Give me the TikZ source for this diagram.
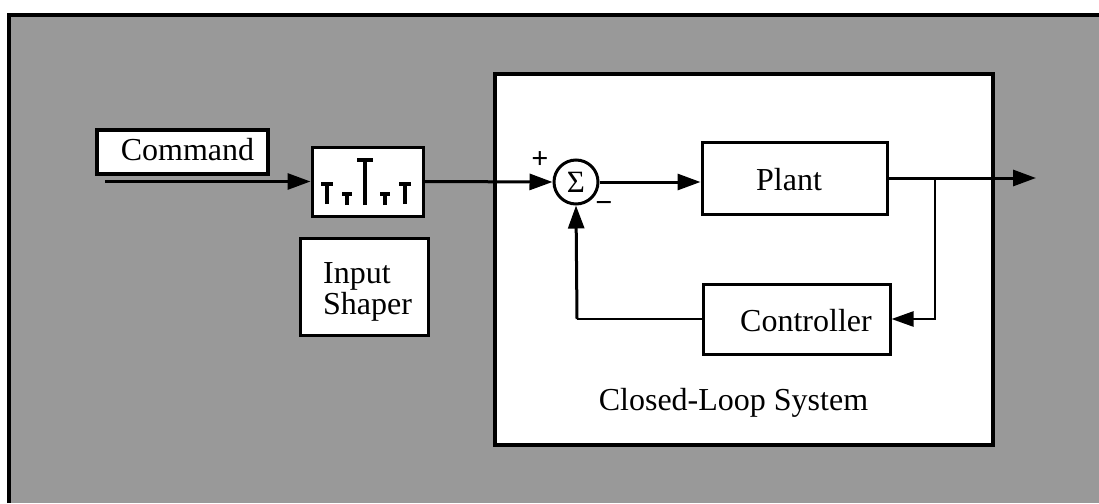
\documentclass[tikz,border=0pt]{standalone}
\usepackage{fontspec}
\setmainfont{Liberation Serif}
\usetikzlibrary{arrows.meta}
\definecolor{halftone}{gray}{0.6}
\begin{document}
\begin{tikzpicture}[x=1pt,y=-1pt,
  blk/.style={draw=black, fill=white, line width=3pt, inner sep=0pt, rectangle},
  txt/.style={inner sep=0pt, anchor=base, font=\fontsize{32}{34}\selectfont},
  sgn/.style={inner sep=0pt, font=\bfseries\fontsize{30}{32}\selectfont},
  wire/.style={line width=3pt, -{Triangle[length=23pt,width=16pt]}},
  fb/.style={line width=2.5pt},
  pulse/.style={line width=4pt}
]
\useasboundingbox (0,0) rectangle (1099,503);
\fill[white] (0,0) rectangle (1099,503);
\fill[halftone] (9,15) rectangle (1099,503);
\draw[line width=4pt] (9,503) -- (9,15) -- (1099,15);

% closed-loop region
\node[blk, line width=4.5pt, minimum width=498, minimum height=371] (cls) at (744,259.5) {};
\node[txt] (clstxt) at (733.5,410) {Closed-Loop System};

% command
\node[blk, line width=4pt, minimum width=171, minimum height=44] (cmd) at (182.5,152) {};
\node[txt] (cmdtxt) at (187.5,160) {Command};

% shaper
\node[blk, minimum width=111, minimum height=69] (shaper) at (367.5,181.5) {};
\draw[pulse] (327,204) -- (327,182) (321,184) -- (333,184);
\draw[pulse] (347,205) -- (347,192) (342,194) -- (352,194);
\draw[pulse] (365,205) -- (365,158) (357,160) -- (373,160);
\draw[pulse] (385,205) -- (385,192) (380,194) -- (390,194);
\draw[pulse] (405,204) -- (405,182) (399,184) -- (411,184);

% input shaper label
\node[blk, minimum width=128, minimum height=97] (islbl) at (364,286.5) {};
\node[txt, anchor=base west] (istxt1) at (323,283) {Input};
\node[txt, anchor=base west] (istxt2) at (323,314) {Shaper};

% sum junction
\node[draw, circle, line width=3pt, fill=white, minimum size=44, inner sep=0pt, font=\fontsize{31}{33}\selectfont] (sum) at (576,182) {Σ};
\node[sgn] (plus) at (540,160) {+};
\node[sgn] (minus) at (604,207) {−};

% plant and controller
\node[blk, minimum width=185, minimum height=72] (plant) at (794.5,178) {};
\node[txt] (planttxt) at (789,190) {Plant};
\node[blk, minimum width=187, minimum height=70] (ctrl) at (796.5,319) {};
\node[txt] (ctrltxt) at (806,331) {Controller};

% connectors
\coordinate (in) at (105,181.5);
\coordinate (out) at (1036,178);
\coordinate (jn) at (935,178);
\coordinate (fbc) at (577,319);

\draw[wire] (in) -- (shaper.west);
\draw[wire] (shaper.east) -- (sum.west);
\draw[wire] (sum.east) -- (sum.east -| plant.west);
\draw[wire] (plant.east) -- (out);
\draw[fb, -{Triangle[length=22pt,width=15pt]}] (jn) |- (ctrl.east);
\draw[fb] (ctrl.west) -- (fbc);
\draw[wire] (fbc) -- (sum.south);
\end{tikzpicture}
\end{document}
